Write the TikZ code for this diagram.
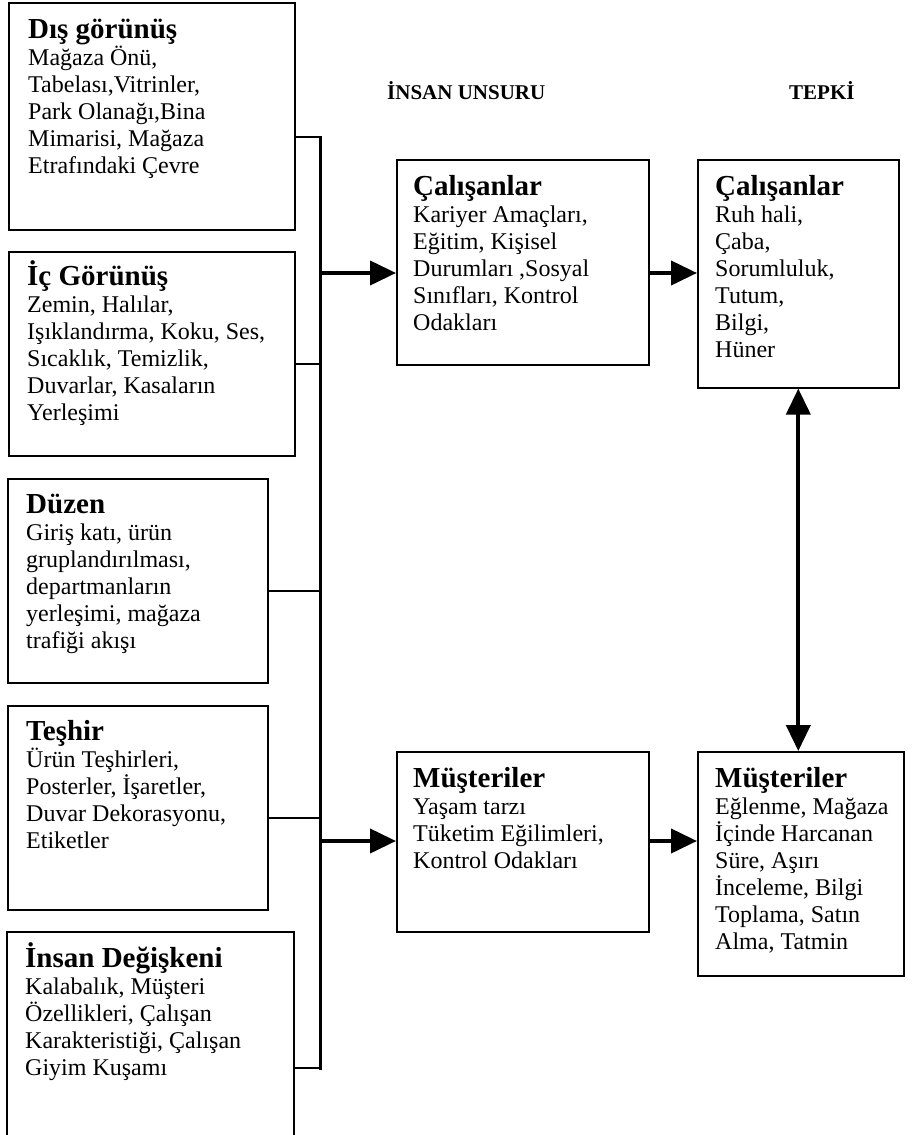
\documentclass[tikz,border=0pt]{standalone}
\usepackage{fontspec}
\setmainfont{Liberation Serif}
\usetikzlibrary{arrows.meta,positioning}
\newcommand{\baslik}[1]{{\fontsize{29}{29}\selectfont\bfseries\rule{0pt}{27pt}#1}}
\tikzset{
  kutu/.style={draw,line width=1.6pt,anchor=north west,inner sep=0pt},
  yazi/.style={anchor=north west,align=left,inner sep=0pt,font=\fontsize{24}{27}\selectfont},
  ust/.style={anchor=base west,inner sep=0pt,font=\fontsize{21}{21}\selectfont\bfseries},
  ok/.style={line width=4pt,-{Triangle[length=26pt 0,width=24pt 0]}},
  ince/.style={line width=1.6pt}
}
\begin{document}
\begin{tikzpicture}[x=1pt,y=-1pt]
  \useasboundingbox (0,0) rectangle (922,1135);
  \node[kutu,minimum width=286pt,minimum height=227pt] (dis) at (8,2) {};
  \node[kutu,minimum width=286pt,minimum height=204pt] (ic) at (8,251) {};
  \node[kutu,minimum width=260pt,minimum height=204pt] (duzen) at (7,478) {};
  \node[kutu,minimum width=260pt,minimum height=204pt] (teshir) at (7,705) {};
  \node[kutu,minimum width=287pt,minimum height=230pt] (insan) at (6,931) {};
  \node[kutu,minimum width=252pt,minimum height=205pt] (calisan) at (396,159) {};
  \node[kutu,minimum width=252pt,minimum height=180pt] (musteri) at (396,751) {};
  \node[kutu,minimum width=201pt,minimum height=228pt] (tcalisan) at (697,159) {};
  \node[kutu,minimum width=206pt,minimum height=224pt] (tmusteri) at (697,751) {};

  \node[yazi] (disy) at ([shift={(20,9)}]dis.north west) {\baslik{Dış görünüş}\\Mağaza Önü,\\Tabelası,Vitrinler,\\Park Olanağı,Bina\\Mimarisi, Mağaza\\Etrafındaki Çevre};
  \node[yazi] (icy) at ([shift={(19,7)}]ic.north west) {\baslik{İç Görünüş}\\Zemin, Halılar,\\Işıklandırma, Koku, Ses,\\Sıcaklık, Temizlik,\\Duvarlar, Kasaların\\Yerleşimi};
  \node[yazi] (duzeny) at ([shift={(19,8)}]duzen.north west) {\baslik{Düzen}\\Giriş katı, ürün\\gruplandırılması,\\departmanların\\yerleşimi, mağaza\\trafiği akışı};
  \node[yazi] (teshiry) at ([shift={(19,8)}]teshir.north west) {\baslik{Teşhir}\\Ürün Teşhirleri,\\Posterler, İşaretler,\\Duvar Dekorasyonu,\\Etiketler};
  \node[yazi] (insany) at ([shift={(19,9)}]insan.north west) {\baslik{İnsan Değişkeni}\\Kalabalık, Müşteri\\Özellikleri, Çalışan\\Karakteristiği, Çalışan\\Giyim Kuşamı};
  \node[yazi] (calisany) at ([shift={(17,9)}]calisan.north west) {\baslik{Çalışanlar}\\Kariyer Amaçları,\\Eğitim, Kişisel\\Durumları ,Sosyal\\Sınıfları, Kontrol\\Odakları};
  \node[yazi] (musteriy) at ([shift={(17,9)}]musteri.north west) {\baslik{Müşteriler}\\Yaşam tarzı\\Tüketim Eğilimleri,\\Kontrol Odakları};
  \node[yazi] (tcalisany) at ([shift={(18,9)}]tcalisan.north west) {\baslik{Çalışanlar}\\Ruh hali,\\Çaba,\\Sorumluluk,\\Tutum,\\Bilgi,\\Hüner};
  \node[yazi] (tmusteriy) at ([shift={(18,9)}]tmusteri.north west) {\baslik{Müşteriler}\\Eğlenme, Mağaza\\İçinde Harcanan\\Süre, Aşırı\\İnceleme, Bilgi\\Toplama, Satın\\Alma, Tatmin};

  \node[ust] (unsur) at (387,99) {İNSAN UNSURU};
  \node[ust] (tepki) at (789,99) {TEPKİ};

  \coordinate (b1) at (320,137);
  \coordinate (b2) at (320,364);
  \coordinate (b3) at (320,591);
  \coordinate (b4) at (320,818);
  \coordinate (b5) at (320,1068);
  \coordinate (o1) at (320,273);
  \coordinate (o2) at (320,841);
  \draw[ince] (dis.east |- b1) -- (b1);
  \draw[ince] (ic.east |- b2) -- (b2);
  \draw[ince] (duzen.east |- b3) -- (b3);
  \draw[ince] (teshir.east |- b4) -- (b4);
  \draw[ince] (insan.east |- b5) -- (b5);
  \draw[line width=3pt,line cap=rect] (b1) -- (b5);
  \draw[ok] (o1) -- (calisan.west |- o1);
  \draw[ok] (o2) -- (musteri.west |- o2);
  \draw[ok] (calisan.east |- o1) -- (tcalisan.west |- o1);
  \draw[ok] (musteri.east |- o2) -- (tmusteri.west |- o2);
  \draw[ok,{Triangle[length=26pt 0,width=24pt 0]}-{Triangle[length=26pt 0,width=24pt 0]}] (tcalisan.south) -- (tcalisan.south |- tmusteri.north);
\end{tikzpicture}
\end{document}
